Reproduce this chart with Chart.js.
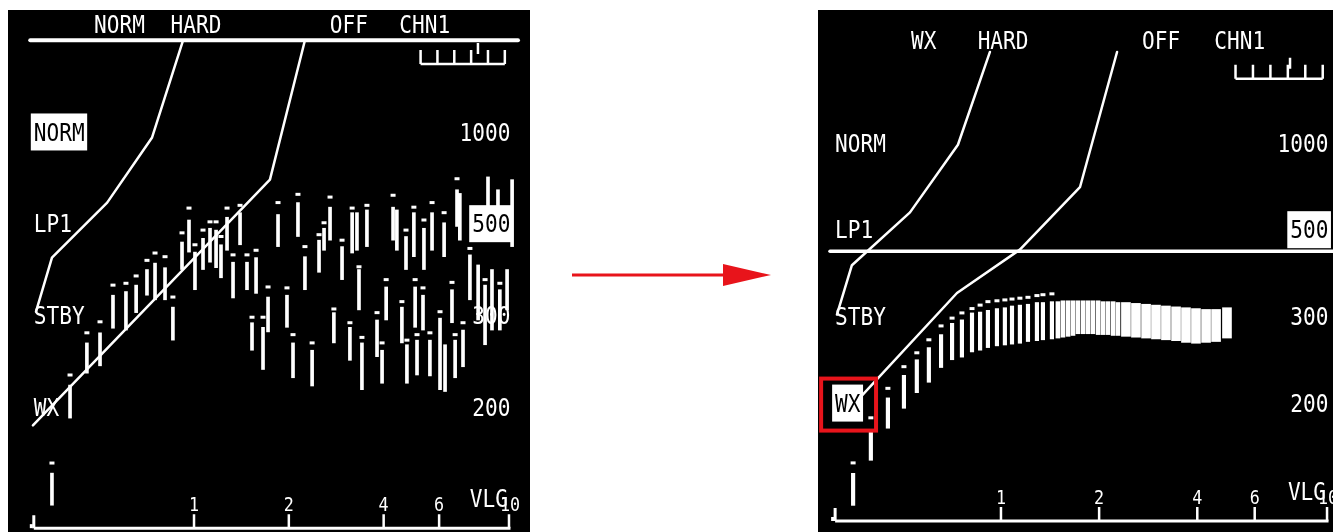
<!DOCTYPE html>
<html>
<head>
<meta charset="utf-8">
<script src="https://cdn.jsdelivr.net/npm/chart.js@4.4.1/dist/chart.umd.min.js"></script>
<style>
  html, body { margin: 0; padding: 0; background: #fff; width: 1333px; height: 532px; overflow: hidden; }
  .panel { position: absolute; background: #000; }
  #left { left: 8px; top: 10px; width: 522px; height: 522px; }
  #right { left: 818px; top: 10px; width: 515px; height: 522px; }
  #arrow { position: absolute; left: 565px; top: 255px; }
</style>
</head>
<body>
<div class="panel" id="left"><canvas id="cLeft" width="522" height="522"></canvas></div>
<svg id="arrow" width="220" height="40" viewBox="0 0 220 40">
  <line x1="7" y1="20" x2="165" y2="20" stroke="#e8141b" stroke-width="3"/>
  <polygon points="158,9 206,20 158,31" fill="#e8141b"/>
</svg>
<div class="panel" id="right"><canvas id="cRight" width="515" height="522"></canvas></div>

<script>
// ---- axis / label content ----
const levelTicks = [4, 3, 2, 1];
const modeLabels = ['NORM', 'LP1', 'STBY', 'WX'];
const rangeLabels = ['1000', '500', '300', '200'];
const axisTicks = [1, 2, 4, 6, 10];
const axisTickLabels = ['1', '2', '4', '6', '10'];
const axisName = 'VLG';
const leftHeader = ['NORM', 'HARD', 'OFF', 'CHN1'];
const rightHeader = ['WX', 'HARD', 'OFF', 'CHN1'];

// ---- left display: scattered returns ----
const leftX = [0.354,0.404,0.457,0.503,0.553,0.608,0.655,0.709,0.752,0.809,0.857,0.916,0.964,1.007,1.068,1.124,1.175,1.218,1.273,1.33,
  1.40,1.473,1.528,1.574,1.656,1.718,1.848,1.973,2.062,2.138,2.25,2.371,2.494,2.587,2.703,2.78,2.951,3.126,3.177,3.291,
  3.34,3.413,3.54,3.811,3.954,4.074,4.285,4.406,4.571,4.71,4.742,4.989,5.035,5.105,5.333,5.37,5.61,5.698,6.04,6.223,
  6.266,6.592,6.745,6.839,6.982,7.145,7.516,7.98,8.395,8.577,8.831,9.226,9.354,9.862,10.23];
const leftLo = [-0.07,0.88,1.37,1.45,1.86,1.84,2.03,2.22,2.17,2.17,1.73,2.50,2.69,2.28,2.50,2.58,2.52,2.41,2.71,2.19,
  2.77,2.28,1.62,2.24,1.41,1.82,2.75,1.87,1.32,2.86,2.28,1.23,2.47,2.71,2.82,1.70,2.39,1.51,2.68,2.71,
  2.06,1.19,2.75,1.55,1.26,1.95,2.82,2.71,1.70,2.50,1.26,2.64,1.87,1.35,1.84,2.50,1.34,2.71,1.19,2.64,
  1.17,1.92,1.32,2.97,2.82,1.44,2.17,1.95,1.68,3.18,1.84,3.12,1.84,2.06,2.75];
const leftHi = [0.28,1.24,1.70,1.81,2.22,2.26,2.33,2.50,2.57,2.52,2.09,2.80,3.04,2.69,2.84,2.95,2.93,2.77,3.07,2.58,
  3.12,2.58,1.92,2.63,1.87,2.20,3.10,2.22,1.70,3.23,2.64,1.62,2.82,2.95,3.18,2.03,2.75,1.87,3.12,3.12,
  2.50,1.70,3.15,1.95,1.62,2.31,3.18,3.15,2.09,2.86,1.68,3.12,2.31,1.73,2.22,2.95,1.73,3.12,1.97,3.01,
  1.68,2.28,1.73,3.37,3.33,1.84,2.66,2.55,2.33,3.51,2.50,3.37,2.28,2.50,3.48];
const leftPeak = [0.39,1.35,1.81,1.93,2.33,2.35,2.43,2.60,2.68,2.64,2.20,2.90,3.17,2.77,2.93,3.02,3.02,2.86,3.17,2.66,
  3.20,2.66,1.98,2.71,1.98,2.31,3.23,2.30,1.79,3.32,2.75,1.70,2.88,3.01,3.29,2.07,2.82,1.92,3.17,null,
  2.53,1.76,3.20,2.03,1.70,2.39,3.31,null,2.15,2.93,1.73,3.18,2.39,1.79,2.30,3.04,1.81,3.23,2.04,3.12,
  null,2.36,1.79,3.49,null,1.92,2.73,null,2.39,null,null,null,2.35,null,null];

// left display: mode curves
const leftHardX = [0.923, 0.736, 0.53, 0.354, 0.315];
const leftHardY = [5.0, 3.94, 3.23, 2.63, 2.04];
const leftOffX = [2.25, 1.742, 0.308];
const leftOffY = [5.0, 3.48, 0.8];
const leftHeaderRule = { from: 0.302, to: 10.68, level: 5.0 };

// ---- right display: weather returns ----
const rightX = [0.352,0.399,0.450,0.504,0.552,0.601,0.655,0.708,0.759,0.815,0.863,0.912,0.972,1.028,1.081,1.143,1.21,1.289,1.345,1.433];
const rightLo = [-0.18,0.34,0.71,0.94,1.12,1.24,1.41,1.50,1.53,1.59,1.61,1.64,1.66,1.67,1.68,1.69,1.71,1.72,1.73,1.74];
const rightHi = [0.19,0.67,1.06,1.32,1.50,1.64,1.79,1.92,1.96,2.04,2.05,2.07,2.09,2.10,2.12,2.13,2.14,2.16,2.16,2.17];
const rightPeak = [0.31,0.83,1.17,1.42,1.58,1.73,1.89,1.98,2.04,2.09,2.13,2.17,2.18,2.19,2.20,2.21,2.22,2.24,2.25,2.26];
const rightDenseX = [1.495,1.549,1.606,1.663,1.722,1.786,1.849,1.915,1.986,2.056,2.129,2.208,2.285];
const rightDenseLo = [1.75,1.76,1.77,1.78,1.80,1.80,1.80,1.80,1.79,1.79,1.79,1.78,1.78];
const rightDenseHi = [2.17,2.18,2.18,2.18,2.18,2.18,2.18,2.18,2.18,2.17,2.17,2.17,2.16];
const rightBlockX = [2.417,2.594,2.786,2.988,3.206,3.443,3.693,3.963,4.256,4.567,4.933];
const rightBlockLo = [1.77,1.76,1.75,1.74,1.73,1.72,1.70,1.69,1.70,1.71,1.75];
const rightBlockHi = [2.16,2.15,2.14,2.13,2.12,2.11,2.10,2.09,2.08,2.08,2.10];

const rightHardX = [0.925, 0.738, 0.526, 0.349, 0.314];
const rightHardY = [5.05, 3.98, 3.20, 2.59, 2.02];
const rightOffX = [2.27, 1.747, 1.143, 0.733, 0.375];
const rightOffY = [5.05, 3.49, 2.77, 2.27, 1.09];
const rightCursor = { from: 0.299, to: 10.43, level: 2.75 };

// ---- helpers ----
const WHITE = '#ffffff';
const FONT = '"DejaVu Sans Mono", "Liberation Mono", monospace';
const SQUEEZE = 0.88;

function pts(xs, ys) { return xs.map((x, i) => ({ x, y: ys[i] })); }
function ranges(xs, lo, hi) { return xs.map((x, i) => ({ x, y: [lo[i], hi[i]] })); }
function peaks(xs, pk) { return xs.flatMap((x, i) => pk[i] == null ? [] : [{ x, y: pk[i] }]); }

function barSet(data, thickness) {
  return { type: 'bar', data, backgroundColor: WHITE, borderWidth: 0, barThickness: thickness, grouped: false };
}
function peakSet(data) {
  return { type: 'scatter', data, pointStyle: 'line', pointRadius: 2.5, borderColor: WHITE, borderWidth: 3, backgroundColor: WHITE };
}
function curveSet(data, width) {
  return { type: 'line', data, borderColor: WHITE, borderWidth: width || 2.5, pointRadius: 0, tension: 0, fill: false,
           borderCapStyle: 'round', borderJoinStyle: 'round' };
}
function ruleSet(r, width) {
  return curveSet([{ x: r.from, y: r.level }, { x: r.to, y: r.level }], width);
}

function textWidth(ctx, s, size) {
  ctx.save(); ctx.font = size + 'px ' + FONT; const w = ctx.measureText(s).width * SQUEEZE; ctx.restore(); return w;
}
function drawText(ctx, s, x, cy, align, size, color) {
  ctx.save();
  ctx.font = size + 'px ' + FONT;
  ctx.fillStyle = color || WHITE;
  ctx.textAlign = align;
  ctx.textBaseline = 'alphabetic';
  ctx.translate(x, cy + size * 0.365);
  ctx.scale(SQUEEZE, 1);
  ctx.fillText(s, 0, 0);
  ctx.restore();
}
function boxedText(ctx, s, x, cy, align, size) {
  const w = textWidth(ctx, s, size);
  const left = align === 'right' ? x - w - 3 : x - 3;
  ctx.save();
  ctx.fillStyle = WHITE;
  ctx.fillRect(left, cy - 18.5, w + 5.5, 37);
  ctx.restore();
  drawText(ctx, s, x, cy, align, size, '#000');
  return { left, top: cy - 18.5, width: w + 5.5, height: 37 };
}

// Display furniture positioned on the chart's own scales
const HEADER_X = [0.58, 1.015, 3.1, 5.4];
const HEADER_LEVEL = 5.18;
const LABEL_LEFT = 0.31;
const LABEL_RIGHT = 10.1;

function displayFurniture(cfg) {
  return {
    id: 'displayFurniture',
    afterDatasetsDraw(chart) {
      const ctx = chart.ctx;
      const X = v => chart.scales.x.getPixelForValue(v);
      const Y = v => chart.scales.y.getPixelForValue(v);
      ctx.save();
      ctx.strokeStyle = WHITE;
      ctx.fillStyle = WHITE;
      ctx.lineCap = 'butt';

      // header legends
      cfg.header.forEach((t, i) => drawText(ctx, t, X(HEADER_X[i]), Y(HEADER_LEVEL), 'center', 24));

      // channel scale glyph
      const gx0 = X(5.24), gx1 = X(9.7), gy = Y(4.74);
      ctx.lineWidth = 2.5;
      ctx.beginPath();
      ctx.moveTo(gx0, gy); ctx.lineTo(gx1, gy);
      for (let k = 0; k <= 5; k++) {
        const gx = gx0 + (gx1 - gx0) * k / 5;
        ctx.moveTo(gx, gy); ctx.lineTo(gx, gy - 14);
      }
      const mx = X(cfg.marker);
      ctx.moveTo(mx, gy - 10); ctx.lineTo(mx, gy - 21);
      ctx.stroke();

      // mode labels (left) and range labels (right)
      modeLabels.forEach((t, i) => {
        const cy = Y(levelTicks[i]);
        if (i === cfg.boxMode) {
          const b = boxedText(ctx, t, X(LABEL_LEFT), cy, 'left', 24);
          if (cfg.highlight) {
            ctx.save();
            ctx.strokeStyle = '#e8141b';
            ctx.lineWidth = 4;
            ctx.strokeRect(b.left - 11, b.top - 6, b.width + 24, b.height + 15);
            ctx.restore();
          }
        } else {
          drawText(ctx, t, X(LABEL_LEFT), cy, 'left', 24);
        }
      });
      rangeLabels.forEach((t, i) => {
        const cy = Y(levelTicks[i]);
        if (i === 1) boxedText(ctx, t, X(LABEL_RIGHT), cy, 'right', 24);
        else drawText(ctx, t, X(LABEL_RIGHT), cy, 'right', 24);
      });

      // bottom range axis
      const ay = Y(cfg.axisLevel);
      const ax0 = X(0.31), ax1 = X(axisTicks[axisTicks.length - 1]);
      ctx.lineWidth = 3;
      ctx.beginPath();
      ctx.moveTo(ax0, ay); ctx.lineTo(ax1 + 1.5, ay);
      ctx.moveTo(ax0, ay); ctx.lineTo(ax0, ay - 13);
      ctx.stroke();
      ctx.fillRect(ax0 - 4, ay - 4, 3, 4);
      ctx.lineWidth = 2.5;
      ctx.beginPath();
      axisTicks.forEach(v => { ctx.moveTo(X(v), ay); ctx.lineTo(X(v), ay - 14); });
      ctx.stroke();
      axisTickLabels.forEach((t, i) => {
        const last = i === axisTickLabels.length - 1;
        drawText(ctx, t, X(axisTicks[i]) + (last ? 1 : 0), ay - 24, 'center', 19);
      });
      drawText(ctx, axisName, X(axisTicks[axisTicks.length - 1]) - 1, ay - 30, 'right', 24);
      ctx.restore();
    }
  };
}

function options(xr, yr) {
  return {
    responsive: false,
    animation: false,
    events: [],
    layout: { padding: 0, autoPadding: false },
    plugins: { legend: { display: false }, tooltip: { enabled: false } },
    scales: {
      x: { type: 'logarithmic', min: xr[0], max: xr[1], display: false, offset: false, bounds: 'data' },
      y: { type: 'linear', min: yr[0], max: yr[1], display: false }
    }
  };
}

// Left display
new Chart(document.getElementById('cLeft'), {
  type: 'bar',
  data: {
    datasets: [
      ruleSet(leftHeaderRule, 4),
      curveSet(pts(leftHardX, leftHardY)),
      curveSet(pts(leftOffX, leftOffY)),
      peakSet(peaks(leftX, leftPeak)),
      barSet(ranges(leftX, leftLo, leftHi), 3)
    ]
  },
  options: options([0.2567, 11.66], [-0.362, 5.33]),
  plugins: [displayFurniture({ header: leftHeader, boxMode: 0, highlight: false, marker: 7.97, axisLevel: -0.32 })]
});

// Right display
new Chart(document.getElementById('cRight'), {
  type: 'bar',
  data: {
    datasets: [
      ruleSet(rightCursor, 3.5),
      curveSet(pts(rightHardX, rightHardY)),
      curveSet(pts(rightOffX, rightOffY)),
      peakSet(peaks(rightX, rightPeak)),
      barSet(ranges(rightX, rightLo, rightHi), 3.5),
      barSet(ranges(rightDenseX, rightDenseLo, rightDenseHi), 4),
      barSet(ranges(rightBlockX, rightBlockLo, rightBlockHi), 9)
    ]
  },
  options: options([0.2747, 10.43], [-0.487, 5.534]),
  plugins: [displayFurniture({ header: rightHeader, boxMode: 3, highlight: true, marker: 7.7, axisLevel: -0.36 })]
});
</script>
</body>
</html>
